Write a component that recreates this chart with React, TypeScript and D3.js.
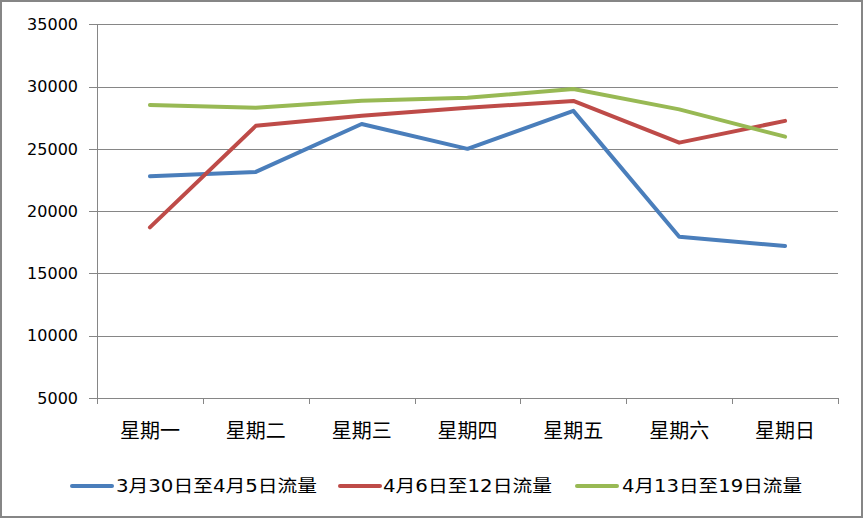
import React from "react";
import * as d3 from "d3";

const days = ["星期一", "星期二", "星期三", "星期四", "星期五", "星期六", "星期日"];
const seriesNames = ["3月30日至4月5日流量", "4月6日至12日流量", "4月13日至19日流量"];
const week1 = [22800, 23150, 27000, 25000, 28050, 17950, 17200];
const week2 = [18700, 26850, 27650, 28300, 28850, 25500, 27250];
const week3 = [28520, 28300, 28870, 29100, 29800, 28170, 25980];
const yTicks = [5000, 10000, 15000, 20000, 25000, 30000, 35000];
const colors = ["#4A7EBB", "#BE4B48", "#98B954"];

const W = 863;
const H = 518;
const left = 97;
const right = 838;
const top = 24.3;
const bottom = 398;

export default function App() {
  const x = d3.scaleBand<string>().domain(days).range([left, right]);
  const y = d3.scaleLinear().domain([5000, 35000]).range([bottom, top]);
  const series = [week1, week2, week3];
  const line = d3
    .line<number>()
    .x((_, i) => (x(days[i]) as number) + x.bandwidth() / 2)
    .y((d) => y(d));

  const legendItems = [
    { lx: 70, tx: 116, tw: 201 },
    { lx: 338, tx: 383, tw: 169 },
    { lx: 575, tx: 622, tw: 180 },
  ];
  const boundaries = days.map((d) => x(d) as number).concat([right]);

  return (
    <svg
      width={W}
      height={H}
      style={{ position: "absolute", left: 0, top: 0, background: "#fff" }}
      fontFamily="'DejaVu Sans', 'Noto Sans CJK SC', sans-serif"
    >
      <rect x={0} y={0} width={W} height={H} fill="#fff" />
      <rect x={1} y={1} width={W - 2} height={H - 2} fill="none" stroke="#868686" strokeWidth={2} />
      {yTicks.map((t) => (
        <g key={t}>
          <line x1={89} x2={right} y1={Math.round(y(t)) + 0.5} y2={Math.round(y(t)) + 0.5} stroke="#868686" strokeWidth={1} />
          <text x={78} y={y(t)} dy="0.36em" textAnchor="end" fontSize={16} fill="#000">
            {t}
          </text>
        </g>
      ))}
      <line x1={left + 0.5} x2={left + 0.5} y1={top} y2={bottom} stroke="#868686" strokeWidth={1} />
      {boundaries.map((b, i) => (
        <line key={i} x1={Math.round(b) + 0.5} x2={Math.round(b) + 0.5} y1={bottom} y2={bottom + 6} stroke="#868686" strokeWidth={1} />
      ))}
      {days.map((d) => (
        <text
          key={d}
          x={(x(d) as number) + x.bandwidth() / 2}
          y={431}
          dy="0.36em"
          textAnchor="middle"
          fontSize={20}
          fontFamily="'Noto Sans CJK SC', sans-serif"
          fill="#000"
        >
          {d}
        </text>
      ))}
      {series.map((s, i) => (
        <path
          key={i}
          d={line(s) as string}
          fill="none"
          stroke={colors[i]}
          strokeWidth={4}
          strokeLinejoin="round"
          strokeLinecap="round"
        />
      ))}
      {legendItems.map((it, i) => (
        <g key={i}>
          <line x1={it.lx + 2} x2={it.lx + 42} y1={486} y2={486} stroke={colors[i]} strokeWidth={4} strokeLinecap="round" />
          <text x={it.tx} y={486} dy="0.36em" fontSize={17} textLength={it.tw} lengthAdjust="spacingAndGlyphs" fill="#000">
            {seriesNames[i]}
          </text>
        </g>
      ))}
    </svg>
  );
}
